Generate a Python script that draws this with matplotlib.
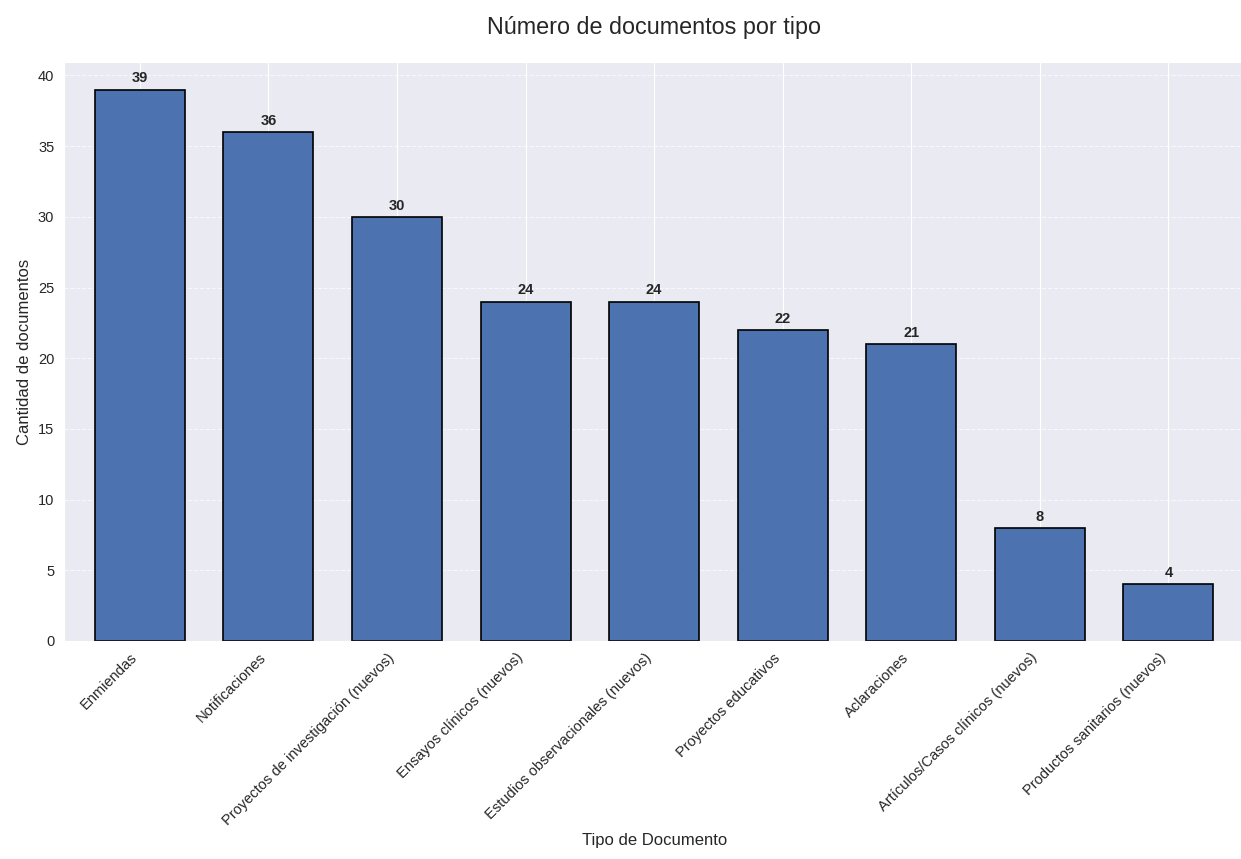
import matplotlib
matplotlib.use("Agg")
import matplotlib.pyplot as plt
import seaborn as sns

tipos = ["Enmiendas", "Notificaciones", "Proyectos de investigación (nuevos)",
         "Ensayos clínicos (nuevos)", "Estudios observacionales (nuevos)",
         "Proyectos educativos", "Aclaraciones",
         "Artículos/Casos clínicos (nuevos)", "Productos sanitarios (nuevos)"]
cantidades = [39, 36, 30, 24, 24, 22, 21, 8, 4]

sns.set_style("darkgrid")
plt.rcParams['font.family'] = ['Liberation Sans', 'DejaVu Sans']

fig = plt.figure(figsize=(12.41, 8.59), dpi=100)
ax = fig.add_axes([0.0516, 0.2538, 0.951, 0.674])

x = range(len(tipos))
bars = ax.bar(x, cantidades, width=0.7, color="#4C72B0", edgecolor="black", linewidth=1.2)
for b, v in zip(bars, cantidades):
    ax.text(b.get_x() + b.get_width() / 2, v + 0.3, str(v), ha="center", va="bottom",
            fontsize=10.5, fontweight="bold", color="#262626")

ax.set_xticks(list(x))
ax.set_xticklabels(tipos, rotation=45, ha="right", fontsize=10.5)
ax.tick_params(axis="y", labelsize=10.5)
ax.set_xlim(-0.59, 8.59)
ax.set_ylim(0, 40.95)
ax.grid(axis="y", linestyle="--", alpha=0.7)
ax.set_xlabel("Tipo de Documento", fontsize=12)
ax.set_ylabel("Cantidad de documentos", fontsize=12)
ax.set_title("Número de documentos por tipo", fontsize=16.8, pad=20)

fig.savefig("out.png", dpi=100)
